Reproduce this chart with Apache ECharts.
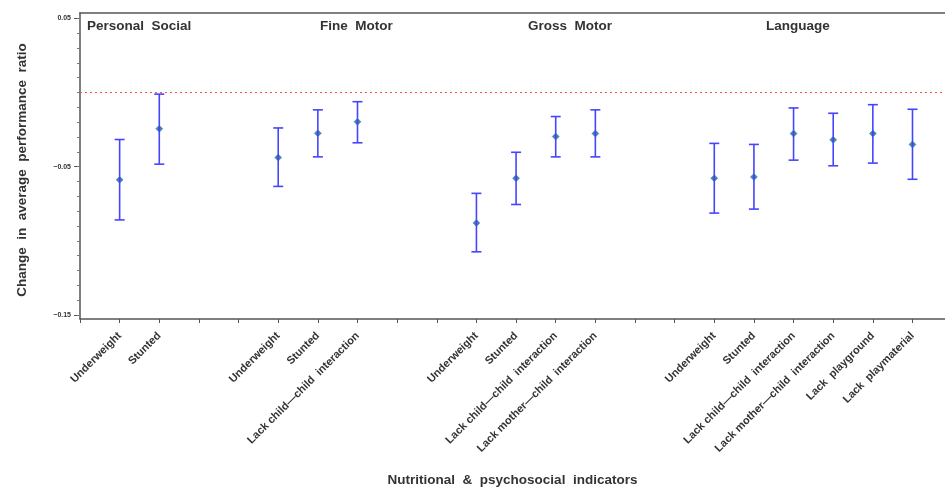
<!DOCTYPE html>
<html>
<head>
<meta charset="utf-8">
<script src="https://cdn.jsdelivr.net/npm/echarts@6/dist/echarts.min.js"></script>
<style>html,body{margin:0;padding:0;background:#fff}#c{width:945px;height:492px}</style>
</head>
<body>
<div id="c"></div>
<script>
// Category slots along the x axis (empty strings are gaps between domains)
const categories = ['', 'Underweight', 'Stunted', '', '',
  'Underweight', 'Stunted', 'Lack child\u2014child  interaction', '', '',
  'Underweight', 'Stunted', 'Lack child\u2014child  interaction', 'Lack mother\u2014child  interaction', '', '',
  'Underweight', 'Stunted', 'Lack child\u2014child  interaction', 'Lack mother\u2014child  interaction', 'Lack  playground', 'Lack  playmaterial'];
const groupNames = ['Personal  Social', 'Fine  Motor', 'Gross  Motor', 'Language'];
// Point estimates and confidence limits, in slot order (non-empty categories)
const estimates = [-0.0589, -0.0244, -0.0439, -0.0275, -0.0197, -0.0879, -0.0578, -0.0297, -0.0277, -0.0578, -0.0569, -0.0277, -0.0319, -0.0277, -0.0350];
const lowerCI   = [-0.0859, -0.0483, -0.0633, -0.0434, -0.0339, -0.1074, -0.0755, -0.0434, -0.0434, -0.0813, -0.0786, -0.0456, -0.0494, -0.0476, -0.0585];
const upperCI   = [-0.0317, -0.0011, -0.0239, -0.0117, -0.0062, -0.0680, -0.0403, -0.0162, -0.0117, -0.0343, -0.0350, -0.0104, -0.0140, -0.0082, -0.0113];
const yTickLabels = [-0.15, -0.05, 0.05];

const slots = [];
categories.forEach((c, i) => { if (c) slots.push(i); });
const pointData = slots.map((x, k) => [x, estimates[k]]);
const barData = slots.map((x, k) => [x, lowerCI[k], upperCI[k]]);
const allTicks = categories.map((c, i) => i);
const minorTicks = [];
for (let i = -15; i <= 5; i++) minorTicks.push(+(i / 100).toFixed(2));

const font = 'Liberation Sans, Arial, sans-serif';
const chart = echarts.init(document.getElementById('c'));
chart.setOption({
  animation: false,
  grid: { left: 80, right: 0, top: 13, bottom: 169 },
  xAxis: [{
    type: 'value', min: 0, max: 21.82,
    name: 'Nutritional  &  psychosocial  indicators',
    nameLocation: 'middle', nameGap: 154,
    nameTextStyle: { fontFamily: font, fontSize: 13.5, fontWeight: 'bold', color: '#333' },
    axisLine: { onZero: false, lineStyle: { color: '#555', width: 1.5 } },
    axisTick: { customValues: allTicks, length: 4, lineStyle: { color: '#555' } },
    axisLabel: {
      customValues: slots, rotate: 45, margin: 15,
      fontFamily: font, fontSize: 11, fontWeight: 'bold', color: '#333',
      formatter: v => categories[Math.round(v)] || ''
    },
    splitLine: { show: false }
  }, {
    type: 'value', min: 0, max: 21.82, position: 'top',
    axisLine: { show: true, onZero: false, lineStyle: { color: '#555', width: 1.5 } },
    axisTick: { show: false }, axisLabel: { show: false }, splitLine: { show: false }
  }],
  yAxis: [{
    type: 'value', min: -0.1527, max: 0.0536,
    name: 'Change  in  average  performance  ratio',
    nameLocation: 'middle', nameGap: 51, nameRotate: 90,
    nameTextStyle: { fontFamily: font, fontSize: 13.5, fontWeight: 'bold', color: '#333', padding: [0, 0, 0, -8] },
    axisLine: { show: true, onZero: false, lineStyle: { color: '#555', width: 1.5 } },
    axisTick: { customValues: yTickLabels, length: 6, lineStyle: { color: '#555' } },
    axisLabel: {
      customValues: yTickLabels, margin: 9,
      fontFamily: font, fontSize: 7, fontWeight: 'bold', color: '#333',
      formatter: v => (v < 0 ? '\u2212' : '') + Math.abs(v).toFixed(2)
    },
    splitLine: { show: false }
  }, {
    type: 'value', min: -0.1527, max: 0.0536, position: 'left',
    axisLine: { show: false, onZero: false },
    axisTick: { customValues: minorTicks, length: 3, lineStyle: { color: '#777' } },
    axisLabel: { show: false }, splitLine: { show: false }
  }],
  graphic: [
    { type: 'text', left: 87, top: 19, style: { text: groupNames[0], font: 'bold 13.5px ' + font, fill: '#333' } },
    { type: 'text', left: 320, top: 19, style: { text: groupNames[1], font: 'bold 13.5px ' + font, fill: '#333' } },
    { type: 'text', left: 528, top: 19, style: { text: groupNames[2], font: 'bold 13.5px ' + font, fill: '#333' } },
    { type: 'text', left: 766, top: 19, style: { text: groupNames[3], font: 'bold 13.5px ' + font, fill: '#333' } }
  ],
  series: [{
    type: 'custom',
    data: barData,
    encode: { x: 0, y: [1, 2] },
    renderItem: function (params, api) {
      const x = api.value(0);
      const pLo = api.coord([x, api.value(1)]);
      const pHi = api.coord([x, api.value(2)]);
      const w = 5;
      const st = { stroke: '#4545ff', lineWidth: 1.6 };
      return {
        type: 'group',
        children: [
          { type: 'line', shape: { x1: pLo[0], y1: pLo[1], x2: pHi[0], y2: pHi[1] }, style: st },
          { type: 'line', shape: { x1: pLo[0] - w, y1: pLo[1], x2: pLo[0] + w, y2: pLo[1] }, style: st },
          { type: 'line', shape: { x1: pHi[0] - w, y1: pHi[1], x2: pHi[0] + w, y2: pHi[1] }, style: st }
        ]
      };
    },
    markLine: {
      silent: true, symbol: 'none', label: { show: false },
      lineStyle: { color: '#ff4d4d', type: [2, 3], width: 1 },
      data: [{ yAxis: 0 }]
    }
  }, {
    type: 'scatter',
    data: pointData,
    symbol: 'diamond', symbolSize: 7,
    itemStyle: { color: '#2b4fd6', borderColor: '#3a8f5a', borderWidth: 0.6 }
  }]
});
</script>
</body>
</html>
